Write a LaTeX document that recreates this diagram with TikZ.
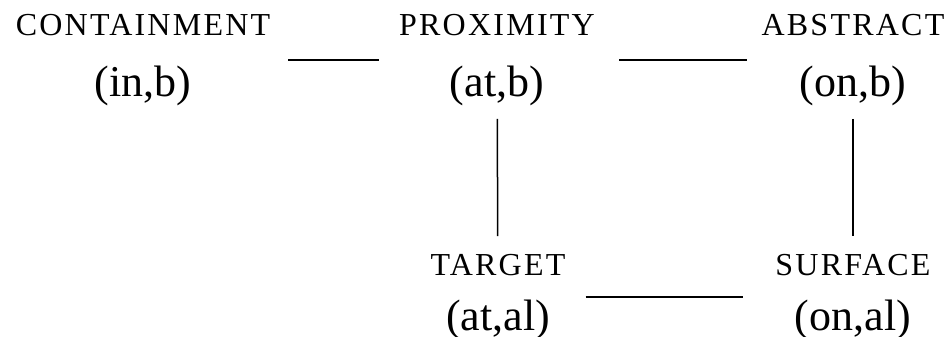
\documentclass[tikz,border=0pt]{standalone}
\usepackage{fontspec}
\setmainfont{Liberation Serif}
\newfontfamily\labfont[LetterSpace=7]{Liberation Serif}
\tikzset{
  concept/.style={inner sep=0pt, align=center, font=\fontsize{44}{61}\selectfont},
  lowconcept/.style={concept, font=\fontsize{44}{55}\selectfont},
  link/.style={line width=1.5pt}
}
\newcommand{\lab}[1]{{\labfont\fontsize{32}{40}\selectfont #1}}
\begin{document}
\begin{tikzpicture}[x=1pt,y=-1pt]
\useasboundingbox (0,0) rectangle (948,337);
\node[concept] (cont) at (143,60) {\lab{CONTAINMENT}\\(in,b)};
\node[concept] (prox) at (497,60) {\lab{PROXIMITY}\\(at,b)};
\node[concept] (abst) at (853,60) {\lab{ABSTRACT}\\(on,b)};
\node[lowconcept] (targ) at (498,297) {\lab{TARGET}\\(at,al)};
\node[lowconcept] (surf) at (853,297) {\lab{SURFACE}\\(on,al)};
\draw[link, shorten <=18pt, shorten >=20pt] (cont) -- (prox);
\draw[link, shorten <=24pt, shorten >=14pt] (prox) -- (abst);
\draw[link, shorten <=13pt, shorten >=18pt] (prox) -- (targ);
\draw[link, shorten <=13pt, shorten >=18pt] (abst) -- (surf);
\draw[link, shorten <=20pt, shorten >=32pt] (targ) -- (surf);
\end{tikzpicture}
\end{document}
